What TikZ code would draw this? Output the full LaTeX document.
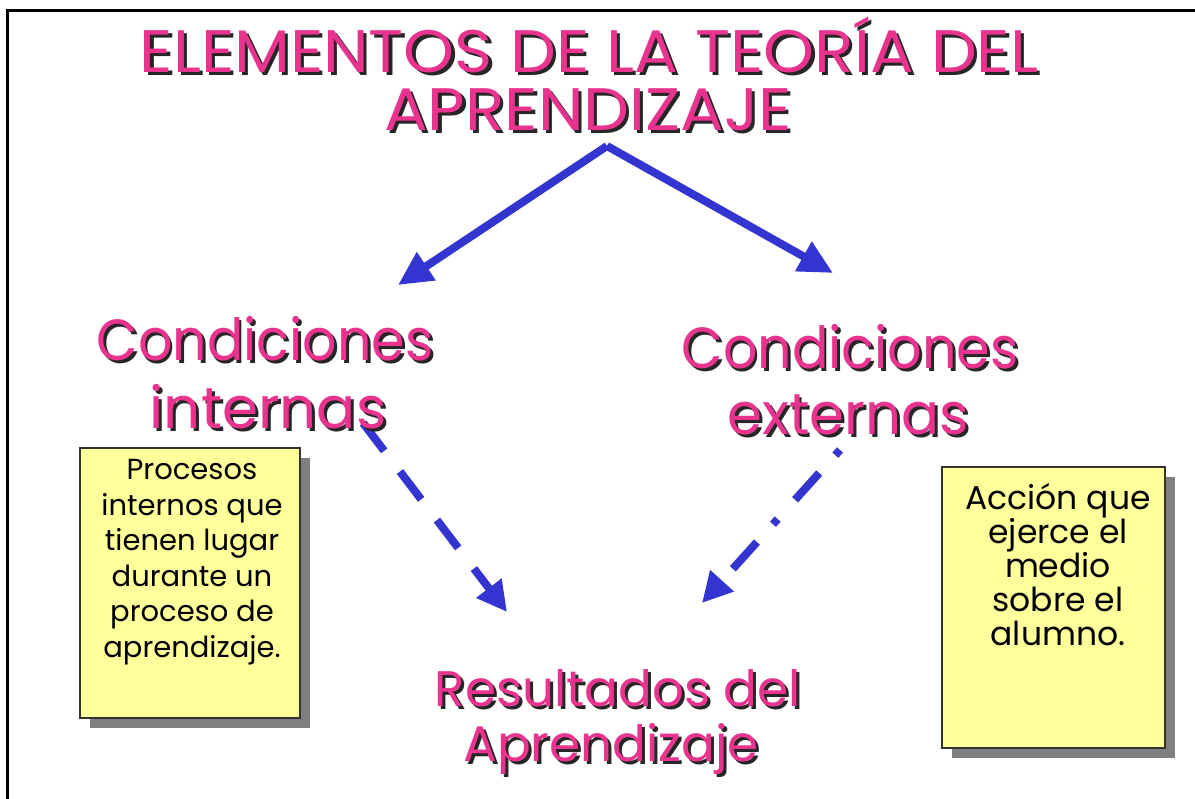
\documentclass[tikz,border=0pt]{standalone}
\usepackage{fontspec}
\setmainfont{Poppins}
\usetikzlibrary{arrows.meta,shadows}
\definecolor{rosa}{RGB}{232,52,142}
\definecolor{azul}{RGB}{52,52,208}
\definecolor{notaamarilla}{RGB}{255,255,156}
\newcommand\sombreado[1]{\rlap{\hspace{3pt}\raisebox{-3pt}{\color{black!85}#1}}#1}
\tikzset{
  rotulo/.style={inner sep=0pt,text=rosa},
  grande/.style={font=\fontsize{58}{60}\selectfont},
  titular/.style={font=\fontsize{60}{62}\selectfont},
  medio/.style={font=\fontsize{50}{52}\selectfont},
  caja/.style={draw=black!80,line width=1.5pt,fill=notaamarilla,
    drop shadow={shadow xshift=10pt,shadow yshift=-10pt,fill=black!50,opacity=1}},
  nota/.style={align=center,inner sep=0pt},
  flecha/.style={draw=azul,line width=8pt,-{Triangle[length=34pt,width=32pt]}}
}
\begin{document}
\begin{tikzpicture}[x=1pt,y=-1pt]
 \useasboundingbox (0,0) rectangle (1195,799);
 \draw[line width=3pt] (7,799) -- (7,11) -- (1195,11);

 \coordinate (cima) at (607,146);
 \coordinate (finint) at (398,285);
 \coordinate (finext) at (833,273);
 \coordinate (salint) at (363,423);
 \coordinate (llegint) at (507,612);
 \coordinate (salext) at (840,450);
 \coordinate (llegext) at (702,603);

 \draw[flecha] (cima) -- (finint);
 \draw[flecha] (cima) -- (finext);
 \draw[flecha,-{Triangle[length=30pt,width=30pt]},dash pattern=on 35pt off 26pt] (salint) -- (llegint);
 \draw[flecha,-{Triangle[length=30pt,width=30pt]},dash pattern=on 7pt off 24pt on 36pt off 26pt] (salext) -- (llegext);

 \node[rotulo,titular] (tit1) at (589,46) {\scalebox{1.08}[1]{\sombreado{ELEMENTOS DE LA TEORÍA DEL}}};
 \node[rotulo,titular] (tit2) at (588,111) {\scalebox{1.08}[1]{\sombreado{APRENDIZAJE}}};
 \node[rotulo,grande] (int1) at (265,340) {\scalebox{0.93}[1]{\sombreado{Condiciones}}};
 \node[rotulo,grande] (int2) at (268,408) {\sombreado{internas}};
 \node[rotulo,grande] (ext1) at (850,348) {\scalebox{0.93}[1]{\sombreado{Condiciones}}};
 \node[rotulo,grande] (ext2) at (848,416) {\scalebox{0.97}[1]{\sombreado{externas}}};
 \node[rotulo,medio] (res1) at (618,690) {\sombreado{Resultados del}};
 \node[rotulo,medio] (res2) at (611,750) {\sombreado{Aprendizaje}};

 \node[caja,minimum width=220pt,minimum height=270pt] (caja1) at (190,583) {};
 \node[nota,font=\fontsize{29}{35.5}\selectfont] (nota1) at (192,562) {Procesos\\internos que\\tienen lugar\\durante un\\proceso de\\aprendizaje.};
 \node[caja,minimum width=223pt,minimum height=281pt] (caja2) at (1053.5,607.5) {};
 \node[nota,font=\fontsize{33}{34}\selectfont] (nota2) at (1058,565) {Acción que\\ejerce el\\medio\\sobre el\\alumno.};
\end{tikzpicture}
\end{document}
